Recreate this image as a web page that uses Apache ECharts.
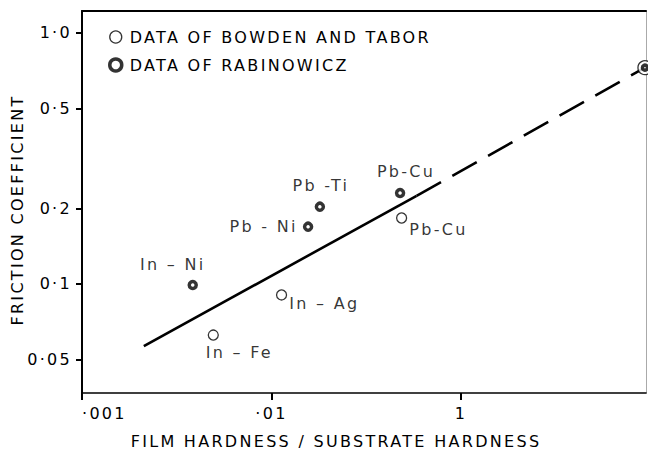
<!DOCTYPE html>
<html><head><meta charset="utf-8">
<script src="https://cdn.jsdelivr.net/npm/echarts@6/dist/echarts.min.js"></script>
<style>
html,body{margin:0;padding:0;background:#fff}
#c{width:648px;height:462px}
#c text{letter-spacing:2.3px}
</style>
</head><body><div id="c"></div>
<script>
// ---- data ----
const xTicks = [0.001, 0.01, 0.1];
const xTickLabels = ['·001', '·01', '1'];
const yTicks = [0.05, 0.1, 0.2, 0.5, 1.0];
const yTickLabels = ['0·05', '0·1', '0·2', '0·5', '1·0'];

const bowdenNames = ['In – Fe', 'In – Ag', 'Pb-Cu', ''];
const bowdenX = [0.00493, 0.0113, 0.0486, 0.935];
const bowdenY = [0.0626, 0.0904, 0.183, 0.726];

const rabNames = ['In – Ni', 'Pb - Ni', 'Pb -Ti', 'Pb-Cu', ''];
const rabX = [0.00384, 0.0156, 0.0180, 0.0477, 0.935];
const rabY = [0.099, 0.169, 0.203, 0.230, 0.726];

const fitX = [0.00212, 0.0583];
const fitY = [0.0566, 0.224];
const extX = [0.0583, 0.935];
const extY = [0.224, 0.726];

const legendNames = ['DATA OF BOWDEN AND TABOR', 'DATA OF RABINOWICZ'];
const xTitle = 'FILM HARDNESS / SUBSTRATE HARDNESS';
const yTitle = 'FRICTION COEFFICIENT';

// ---- styling ----
const FONT = 'DejaVu Sans';
const FS = 16;
const ink = '#000';
const bowdenLabelPos = [
  {position: 'bottom', distance: 4, offset: [26, 0]},
  {position: 'right', distance: 2, offset: [0, 9]},
  {position: 'right', distance: 2, offset: [0, 12]},
  {position: 'right', distance: 0, offset: [0, 0], show: false}
];
const rabLabelPos = [
  {position: 'top', distance: 7, offset: [-20, 0]},
  {position: 'left', distance: 5, offset: [0, 0]},
  {position: 'top', distance: 8, offset: [1, 0]},
  {position: 'top', distance: 8, offset: [6, 0]},
  {position: 'right', distance: 0, offset: [0, 0], show: false}
];
const bowdenSizes = [10, 10, 10, 14];
const rabSizes = [7, 7, 7, 7, 5];

function fmt(ticks, labels) {
  return v => {
    const i = ticks.findIndex(t => Math.abs(t - v) / t < 1e-4);
    return i >= 0 ? labels[i] : '';
  };
}

const xRange = {min: 0.001, max: 0.947};
const yRange = {min: 0.0368, max: 1.22};

const chart = echarts.init(document.getElementById('c'), null, {renderer: 'svg'});
chart.setOption({
  animation: false,
  backgroundColor: '#fff',
  textStyle: {fontFamily: FONT, color: ink},
  grid: {left: 82, right: 2, top: 11, bottom: 69, containLabel: false},
  legend: {
    orient: 'vertical', left: 103, top: 24, itemGap: 12,
    itemWidth: 14, itemHeight: 12,
    textStyle: {fontFamily: FONT, fontSize: FS, color: ink, padding: [0, 0, 0, 2]},
    data: [
      {name: legendNames[0], icon: 'circle', itemStyle: {color: '#fff', borderColor: ink, borderWidth: 1.3}},
      {name: legendNames[1], icon: 'circle', itemStyle: {color: '#fff', borderColor: ink, borderWidth: 3.5}}
    ]
  },
  xAxis: [{
    type: 'log', logBase: 10, min: xRange.min, max: xRange.max, position: 'bottom',
    axisLine: {onZero: false, lineStyle: {color: ink, width: 1.6}},
    axisTick: {customValues: xTicks, length: 7, inside: false, lineStyle: {color: ink, width: 2}},
    axisLabel: {customValues: xTicks, formatter: fmt(xTicks, xTickLabels), margin: 12,
      fontFamily: FONT, fontSize: FS, color: ink, alignMinLabel: 'left'},
    splitLine: {show: false}, minorTick: {show: false}, minorSplitLine: {show: false},
    name: xTitle, nameLocation: 'middle', nameGap: 40,
    nameTextStyle: {fontFamily: FONT, fontSize: FS, color: ink, padding: [0, 56, 0, 0]}
  }, {
    type: 'log', logBase: 10, min: xRange.min, max: xRange.max, position: 'top',
    axisLine: {onZero: false, lineStyle: {color: ink, width: 2}},
    axisTick: {show: false}, axisLabel: {show: false}, splitLine: {show: false}
  }],
  yAxis: [{
    type: 'log', logBase: 10, min: yRange.min, max: yRange.max, position: 'left',
    axisLine: {onZero: false, lineStyle: {color: ink, width: 2}},
    axisTick: {customValues: yTicks, length: 6, lineStyle: {color: ink, width: 2}},
    axisLabel: {customValues: yTicks, formatter: fmt(yTicks, yTickLabels), margin: 10,
      fontFamily: FONT, fontSize: FS, color: ink},
    splitLine: {show: false}, minorTick: {show: false}, minorSplitLine: {show: false},
    name: yTitle, nameLocation: 'middle', nameGap: 54, nameRotate: 90,
    nameTextStyle: {fontFamily: FONT, fontSize: FS, color: ink, padding: [0, 16, 0, 0]}
  }, {
    type: 'log', logBase: 10, min: yRange.min, max: yRange.max, position: 'right',
    axisLine: {onZero: false, lineStyle: {color: '#aaa', width: 1}},
    axisTick: {show: false}, axisLabel: {show: false}, splitLine: {show: false}
  }],
  series: [
    {
      type: 'line', name: 'fit', data: fitX.map((x, i) => [x, fitY[i]]),
      showSymbol: false, symbol: 'none', silent: true, clip: true,
      lineStyle: {color: ink, width: 2.6, type: 'solid'}, z: 2
    },
    {
      type: 'line', name: 'ext', data: extX.map((x, i) => [x, extY[i]]),
      showSymbol: false, symbol: 'none', silent: true, clip: true,
      lineStyle: {color: ink, width: 2.6, type: [28, 13]}, z: 2
    },
    {
      type: 'scatter', name: legendNames[0],
      data: bowdenX.map((x, i) => ({
        value: [x, bowdenY[i]], symbolSize: bowdenSizes[i],
        label: Object.assign({show: true, formatter: bowdenNames[i]}, bowdenLabelPos[i])
      })),
      symbol: 'circle',
      itemStyle: {color: '#fff', borderColor: ink, borderWidth: 1.3},
      label: {fontFamily: FONT, fontSize: FS, color: ink},
      clip: false, z: 3
    },
    {
      type: 'scatter', name: legendNames[1],
      data: rabX.map((x, i) => ({
        value: [x, rabY[i]], symbolSize: rabSizes[i],
        label: Object.assign({show: true, formatter: rabNames[i]}, rabLabelPos[i])
      })),
      symbol: 'circle',
      itemStyle: {color: '#fff', borderColor: ink, borderWidth: 3.5},
      label: {fontFamily: FONT, fontSize: FS, color: ink},
      clip: false, z: 4
    }
  ]
});
</script></body></html>
